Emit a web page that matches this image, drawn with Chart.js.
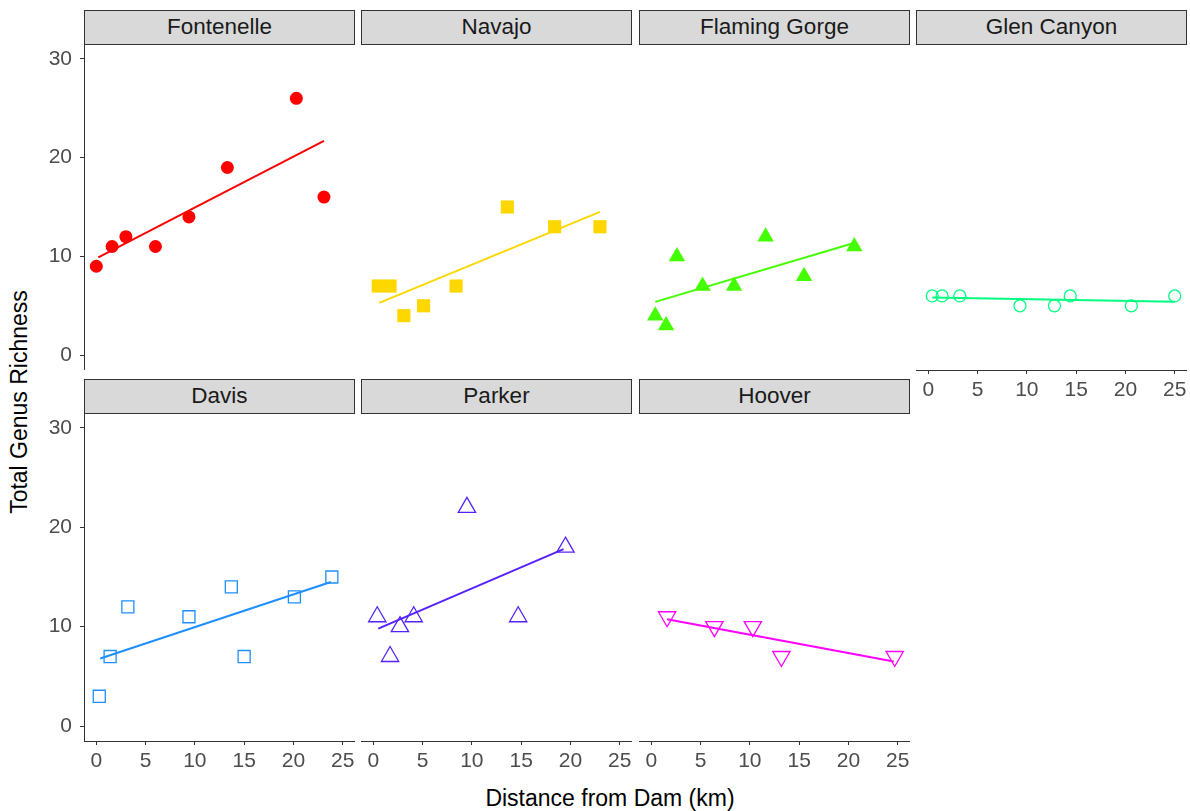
<!DOCTYPE html>
<html>
<head>
<meta charset="utf-8">
<script src="https://cdn.jsdelivr.net/npm/chart.js@4.4.0/dist/chart.umd.min.js"></script>
<style>
  body { margin: 0; background: #fff; width: 1190px; height: 811px; position: relative; overflow: hidden;
         font-family: "Liberation Sans", Arial, sans-serif; }
  canvas { position: absolute; }
  .strip { position: absolute; box-sizing: border-box; background: #d9d9d9; border: 1px solid #333;
           text-align: center; font-size: 22.5px; color: #1a1a1a; line-height: 32px; }
  .axis-title { position: absolute; font-size: 23px; color: #000; white-space: nowrap; }
</style>
</head>
<body>
<div class="axis-title" id="yTitle">Total Genus Richness</div>
<div class="axis-title" id="xTitle">Distance from Dam (km)</div>
<script>
// tick labels
const xTicks = [0, 5, 10, 15, 20, 25];
const yTicks = [0, 10, 20, 30];

// points per dam (distance km, genus richness)
const fontenelleX = [0, 1.6, 3.0, 6.0, 9.4, 13.3, 20.3, 23.1];
const fontenelleY = [9, 11, 12, 11, 14, 19, 26, 16];
const navajoX = [0.5, 1.7, 3.1, 5.1, 8.4, 13.6, 18.4, 23.0];
const navajoY = [7, 7, 4, 5, 7, 15, 13, 13];
const flamingGorgeX = [0.4, 1.5, 2.6, 5.2, 8.4, 11.6, 15.5, 20.6];
const flamingGorgeY = [4, 3, 10, 7, 7, 12, 8, 11];
const glenCanyonX = [0.4, 1.4, 3.2, 9.3, 12.8, 14.4, 20.6, 25.0];
const glenCanyonY = [6, 6, 6, 5, 5, 6, 5, 6];
const davisX = [0.3, 1.4, 3.2, 9.4, 13.7, 15.0, 20.1, 23.9];
const davisY = [3, 7, 12, 11, 14, 7, 13, 15];
const parkerX = [0.4, 1.7, 2.7, 4.1, 9.5, 14.7, 19.5];
const parkerY = [11, 7, 10, 11, 22, 11, 18];
const hooverX = [1.6, 6.4, 10.3, 13.2, 24.7];
const hooverY = [11, 10, 10, 7, 7];

// fitted line ends
const fontenelleFitX = [0.2, 23.1], fontenelleFitY = [9.9, 21.7];
const navajoFitX = [0.6, 23.0], navajoFitY = [5.3, 14.5];
const flamingGorgeFitX = [0.4, 20.4], flamingGorgeFitY = [5.4, 11.3];
const glenCanyonFitX = [0.4, 25.0], glenCanyonFitY = [5.85, 5.4];
const davisFitX = [0.4, 23.8], davisFitY = [6.8, 14.5];
const parkerFitX = [0.5, 19.3], parkerFitY = [9.8, 17.8];
const hooverFitX = [1.6, 24.6], hooverFitY = [10.75, 6.5];

const panels = [
  { name: 'Fontenelle', x: fontenelleX, y: fontenelleY, fx: fontenelleFitX, fy: fontenelleFitY,
    color: '#ff0000', shape: 'circle', r: 6.5, filled: true, col: 0, row: 0 },
  { name: 'Navajo', x: navajoX, y: navajoY, fx: navajoFitX, fy: navajoFitY,
    color: '#ffd700', shape: 'rect', r: 9.3, filled: true, col: 1, row: 0 },
  { name: 'Flaming Gorge', x: flamingGorgeX, y: flamingGorgeY, fx: flamingGorgeFitX, fy: flamingGorgeFitY,
    color: '#44ff00', shape: 'triangle', r: 9.5, filled: true, col: 2, row: 0 },
  { name: 'Glen Canyon', x: glenCanyonX, y: glenCanyonY, fx: glenCanyonFitX, fy: glenCanyonFitY,
    color: '#00ff80', shape: 'circle', r: 6, filled: false, col: 3, row: 0, xAxis: true },
  { name: 'Davis', x: davisX, y: davisY, fx: davisFitX, fy: davisFitY,
    color: '#1e8fff', shape: 'rect', r: 8.5, filled: false, col: 0, row: 1, xAxis: true },
  { name: 'Parker', x: parkerX, y: parkerY, fx: parkerFitX, fy: parkerFitY,
    color: '#5522ff', shape: 'triangle', r: 10, filled: false, col: 1, row: 1, xAxis: true },
  { name: 'Hoover', x: hooverX, y: hooverY, fx: hooverFitX, fy: hooverFitY,
    color: '#ff00ff', shape: 'triangle', r: 10, filled: false, rot: 180, col: 2, row: 1, xAxis: true }
];

// layout (px)
const colLeft = [84, 361, 639, 916];
const plotW = 271;
const stripTop = [10, 379];
const stripH = 34;
const plotH = [326, 328];
const yAxisW = 48;
const xAxisH = 40;

const tickFont = { family: '"Liberation Sans", Arial, sans-serif', size: 21 };

panels.forEach(p => {
  const left = colLeft[p.col];
  const top = stripTop[p.row] + stripH;
  const showY = p.col === 0;
  const showX = !!p.xAxis;

  const strip = document.createElement('div');
  strip.className = 'strip';
  strip.style.cssText = `left:${left}px;top:${stripTop[p.row]}px;width:${plotW}px;height:${stripH + 1}px;`;
  strip.textContent = p.name;
  document.body.appendChild(strip);

  const cw = plotW + (showY ? yAxisW : 0);
  const ch = plotH[p.row] + (showX ? xAxisH : 0);
  const canvas = document.createElement('canvas');
  canvas.width = cw;
  canvas.height = ch;
  canvas.style.left = (left - (showY ? yAxisW : 0)) + 'px';
  canvas.style.top = top + 'px';
  canvas.style.width = cw + 'px';
  canvas.style.height = ch + 'px';
  document.body.appendChild(canvas);

  const pts = p.x.map((v, i) => ({ x: v, y: p.y[i] }));
  const fit = p.fx.map((v, i) => ({ x: v, y: p.fy[i] }));

  new Chart(canvas.getContext('2d'), {
    type: 'scatter',
    data: {
      datasets: [
        {
          type: 'line',
          data: fit,
          borderColor: p.color,
          borderWidth: 2,
          pointRadius: 0,
          fill: false,
          tension: 0
        },
        {
          data: pts,
          pointStyle: p.shape,
          pointRadius: p.r,
          pointRotation: p.rot || 0,
          backgroundColor: p.filled ? p.color : 'rgba(0,0,0,0)',
          borderColor: p.color,
          borderWidth: p.filled ? 0 : 1.3
        }
      ]
    },
    options: {
      responsive: false,
      animation: false,
      layout: { padding: 0, autoPadding: false },
      plugins: { legend: { display: false }, tooltip: { enabled: false } },
      scales: {
        x: {
          type: 'linear',
          min: -1.25,
          max: 26.25,
          display: showX,
          afterBuildTicks: s => { s.ticks = xTicks.map(v => ({ value: v })); },
          afterFit: s => {
            s.height = showX ? xAxisH : 0;
            s.paddingLeft = 0; s.paddingRight = 0;
          },
          grid: { display: true, drawOnChartArea: false, drawTicks: true, tickLength: 4, color: '#333' },
          border: { display: true, color: '#333', width: 1 },
          ticks: { color: '#4d4d4d', font: tickFont, padding: 4, maxRotation: 0 }
        },
        y: {
          type: 'linear',
          min: -1.5,
          max: 31.5,
          display: showY,
          afterBuildTicks: s => { s.ticks = yTicks.map(v => ({ value: v })); },
          afterFit: s => {
            s.width = showY ? yAxisW : 0;
            s.paddingTop = 0; s.paddingBottom = 0;
          },
          grid: { display: true, drawOnChartArea: false, drawTicks: true, tickLength: 4, color: '#333' },
          border: { display: true, color: '#333', width: 1 },
          ticks: { color: '#4d4d4d', font: tickFont, padding: 8 }
        }
      }
    }
  });
});

// axis titles
const yTitle = document.getElementById('yTitle');
yTitle.style.left = '19px';
yTitle.style.top = '402px';
yTitle.style.transform = 'translate(-50%, -50%) rotate(-90deg)';

const xTitle = document.getElementById('xTitle');
xTitle.style.left = '610px';
xTitle.style.top = '798px';
xTitle.style.transform = 'translate(-50%, -50%)';
</script>
</body>
</html>
